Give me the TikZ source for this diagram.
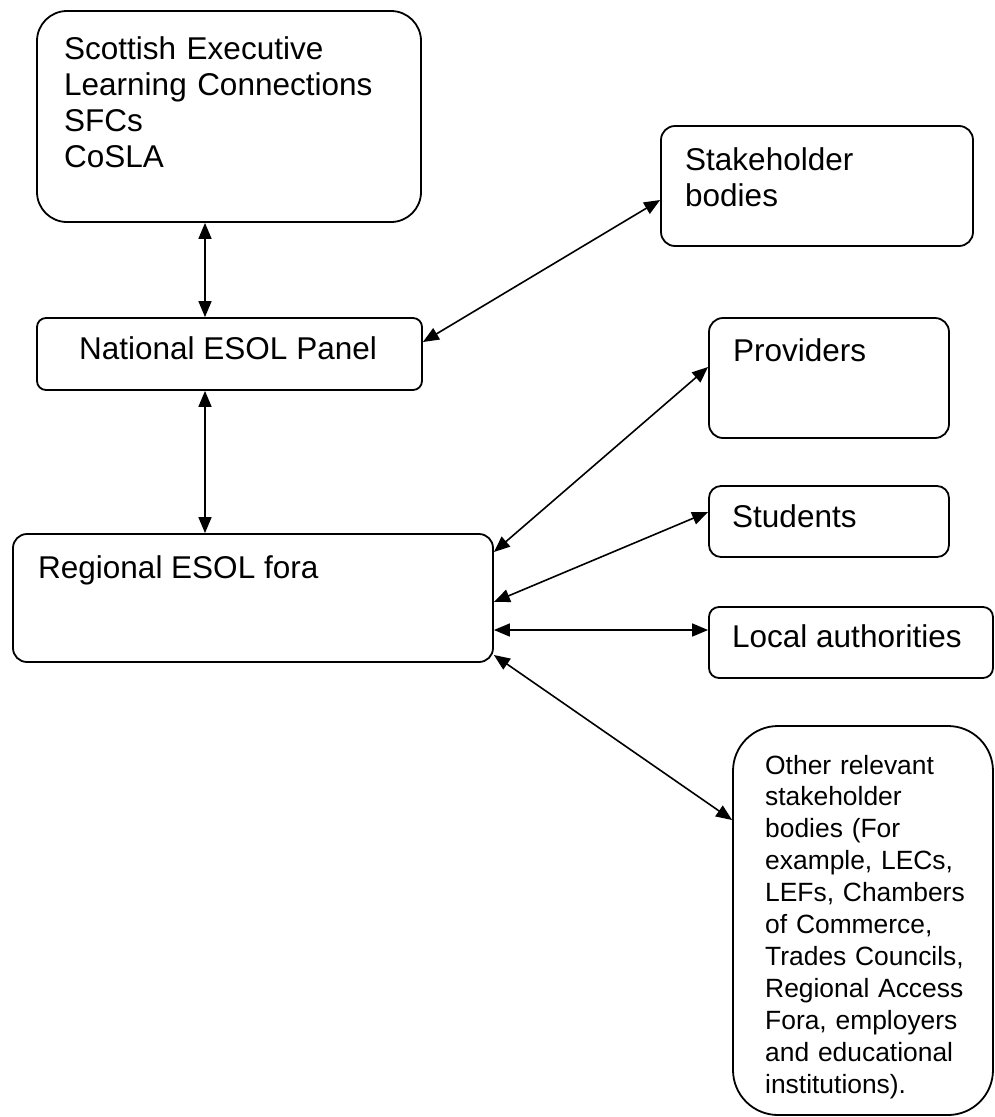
\documentclass[tikz,border=0pt]{standalone}
\usepackage{fontspec}
\setmainfont{Liberation Sans}
\usetikzlibrary{arrows.meta}
\tikzstyle{panel}=[draw, line width=1.8pt, rectangle, inner sep=0pt]
\tikzstyle{panel text}=[inner sep=0pt, anchor=base west, align=left, font=\fontsize{31.5}{36.3}\selectfont]
\tikzstyle{small text}=[panel text, font=\fontsize{26.4}{31.9}\selectfont]
\tikzstyle{link}=[line width=1.6pt, {Triangle[length=16pt, width=13pt]}-{Triangle[length=16pt, width=13pt]}]

\begin{document}
\begin{tikzpicture}[x=1pt, y=-1pt]
      \useasboundingbox (0, 0) rectangle (995, 1117);
      \coordinate (spine) at (205, 0);
      % left column
      \node[panel, minimum width=384pt, minimum height=211pt, rounded corners=30pt] (exec) at (229, 116.5) {};
      \node[panel text, text width=340pt] (exectext) at (64, 59) {Scottish Executive\\Learning Connections\\SFCs\\CoSLA};
      \node[panel, minimum width=385pt, minimum height=72pt, rounded corners=9pt] (natl) at (229.5, 354) {};
      \node[panel text] (natltext) at (79, 359) {National ESOL Panel};
      \node[panel, minimum width=480pt, minimum height=128pt, rounded corners=14pt] (regl) at (253, 598) {};
      \node[panel text] (regltext) at (38, 578) {Regional ESOL fora};
      % right column
      \node[panel, minimum width=312pt, minimum height=120pt, rounded corners=14pt] (stake) at (817, 186) {};
      \node[panel text, text width=250pt] (staketext) at (685, 170) {Stakeholder\\bodies};
      \node[panel, minimum width=240pt, minimum height=120pt, rounded corners=14pt] (prov) at (829, 378) {};
      \node[panel text] (provtext) at (733, 361) {Providers};
      \node[panel, minimum width=240pt, minimum height=71pt, rounded corners=12pt] (stud) at (829, 521.5) {};
      \node[panel text] (studtext) at (732, 527) {Students};
      \node[panel, minimum width=284pt, minimum height=71pt, rounded corners=10pt] (local) at (851, 642.5) {};
      \node[panel text] (localtext) at (732, 647) {Local authorities};
      \node[panel, minimum width=260pt, minimum height=389pt, rounded corners=45pt] (other) at (863, 920.5) {};
      \node[small text, text width=215pt] (othertext) at (765, 774) {Other relevant\\stakeholder\\bodies (For\\example, LECs,\\LEFs, Chambers\\of Commerce,\\Trades Councils,\\Regional Access\\Fora, employers\\and educational\\institutions).};
      % connections
      \draw[link] (exec.south -| spine) -- (natl.north -| spine);
      \draw[link] (natl.south -| spine) -- (regl.north -| spine);
      \draw[link] ([yshift=12pt]natl.east) -- ([yshift=-14pt]stake.west);
      \draw[link] ([yshift=46pt]regl.east) -- ([yshift=11pt]prov.west);
      \draw[link] ([yshift=-4pt]regl.east) -- ([yshift=9.5pt]stud.west);
      \draw[link] ([yshift=-32pt]regl.east) -- ([yshift=12.5pt]local.west);
      \draw[link] ([yshift=-57pt]regl.east) -- ([yshift=100.5pt]other.west);
    \end{tikzpicture}
\end{document}
